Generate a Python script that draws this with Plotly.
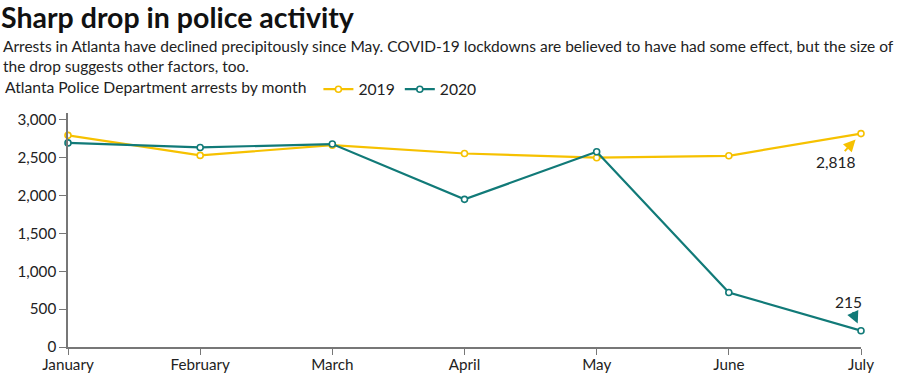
import plotly.graph_objects as go

months = ["January", "February", "March", "April", "May", "June", "July"]
arrests_2019 = [2795, 2530, 2665, 2555, 2500, 2525, 2818]
arrests_2020 = [2695, 2635, 2680, 1950, 2578, 720, 215]
y_ticks = [0, 500, 1000, 1500, 2000, 2500, 3000]

W, H = 900, 389
ML, MR, MT, MB = 68, 39, 113, 42
YMAX = 3090
FONT = "Lato"
C19 = "#F6C100"
C20 = "#117A78"

pw = W - ML - MR
ph = H - MT - MB
def px(x): return (x - ML) / pw
def py(y): return (H - MB - y) / ph

xs = list(range(len(months)))
fig = go.Figure()
for name, vals, col in [("2019", arrests_2019, C19), ("2020", arrests_2020, C20)]:
    fig.add_trace(go.Scatter(
        x=xs, y=vals, name=name, mode="lines+markers", cliponaxis=False,
        line=dict(color=col, width=2.2),
        marker=dict(symbol="circle", size=6, color="white", line=dict(color=col, width=1.6)),
    ))

fig.add_annotation(x=6, y=arrests_2019[-1], text=f"{arrests_2019[-1]:,}", showarrow=True,
                   ax=-26, ay=28, arrowhead=2, arrowsize=1.2, arrowwidth=2, arrowcolor=C19,
                   standoff=8, font=dict(family=FONT, size=15.5, color="#222"))
fig.add_annotation(x=6, y=arrests_2020[-1], text=f"{arrests_2020[-1]:,}", showarrow=True,
                   ax=-13, ay=-29, arrowhead=2, arrowsize=1.2, arrowwidth=2, arrowcolor=C20,
                   standoff=8, font=dict(family=FONT, size=15.5, color="#222"))

fig.add_annotation(xref="paper", yref="paper", x=px(1), y=py(56), xanchor="left", yanchor="middle",
                   align="left", showarrow=False,
                   text="Arrests in Atlanta have declined precipitously since May. COVID-19 lockdowns are believed to have had some effect, but the size of<br>the drop suggests other factors, too.",
                   font=dict(family=FONT, size=15.5, color="#222"))

fig.update_layout(
    width=W, height=H, margin=dict(l=ML, r=MR, t=MT, b=MB, autoexpand=False),
    paper_bgcolor="white", plot_bgcolor="white",
    title=dict(text="<b>Sharp drop in police activity</b>", xref="container", yref="container",
               x=0, y=1 - 18.5 / H, xanchor="left", yanchor="middle", pad=dict(l=1),
               font=dict(family=FONT, size=28.5, color="#111")),
    showlegend=True,
    legend=dict(orientation="h", xref="container", yref="container", x=3 / W, y=1 - 89.5 / H,
                xanchor="left", yanchor="middle", tracegroupgap=0,
                title=dict(text="Atlanta Police Department arrests by month ", side="left",
                           font=dict(family=FONT, size=15.7, color="#222")),
                font=dict(family=FONT, size=15.7, color="#222"), itemwidth=30),
    xaxis=dict(range=[0, 6], tickvals=xs, ticktext=months, showgrid=False, zeroline=False,
               showline=True, linecolor="#777", linewidth=1.5, ticks="outside", ticklen=6,
               ticklabelstandoff=-3,
               tickcolor="#777", tickwidth=1, tickfont=dict(family=FONT, size=15.2, color="#222")),
    yaxis=dict(range=[0, YMAX], tickvals=y_ticks, ticktext=[f"{v:,}" for v in y_ticks],
               showgrid=False, zeroline=False, showline=True, linecolor="#777", linewidth=1.5,
               ticks="outside", ticklen=7, tickcolor="#777", tickwidth=1,
               tickfont=dict(family=FONT, size=15.2, color="#222")),
)

fig.write_html("out.html", config={"displayModeBar": False},
               post_script="document.body.style.margin='0';")
